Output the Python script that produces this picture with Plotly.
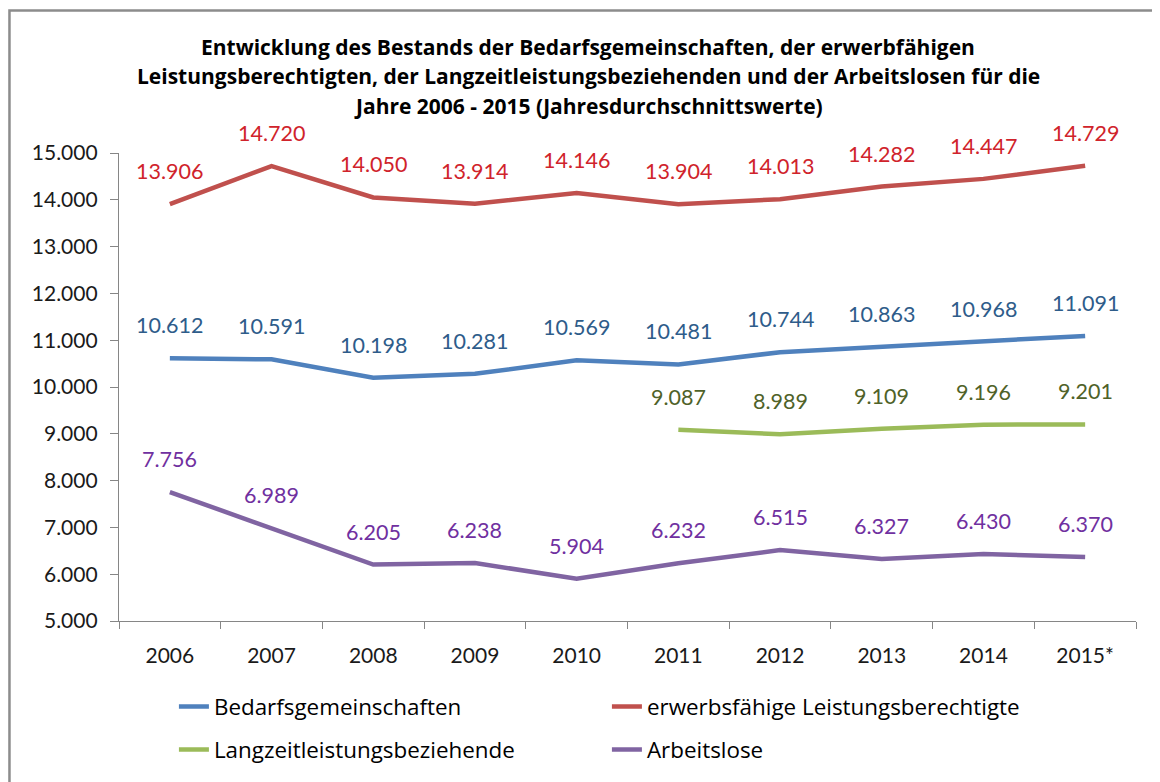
import plotly.graph_objects as go

years = ["2006", "2007", "2008", "2009", "2010", "2011", "2012", "2013", "2014", "2015*"]
bedarf = [10612, 10591, 10198, 10281, 10569, 10481, 10744, 10863, 10968, 11091]
erwerb = [13906, 14720, 14050, 13914, 14146, 13904, 14013, 14282, 14447, 14729]
langzeit = [None, None, None, None, None, 9087, 8989, 9109, 9196, 9201]
arbeitslos = [7756, 6989, 6205, 6238, 5904, 6232, 6515, 6327, 6430, 6370]
y_ticks = [5000, 6000, 7000, 8000, 9000, 10000, 11000, 12000, 13000, 14000, 15000]
y_tick_text = ["5.000", "6.000", "7.000", "8.000", "9.000", "10.000", "11.000", "12.000", "13.000", "14.000", "15.000"]

series = [
    ("Bedarfsgemeinschaften", bedarf, "#4F81BD", "#2E5C8A", "legend"),
    ("erwerbsfähige Leistungsberechtigte", erwerb, "#C0504D", "#D0232B", "legend"),
    ("Langzeitleistungsbeziehende", langzeit, "#9BBB59", "#4F6228", "legend2"),
    ("Arbeitslose", arbeitslos, "#8064A2", "#7030A0", "legend2"),
]

NUMFONT = "Lato"
TXTFONT = "Open Sans"

def fmt(v):
    return f"{v:,}".replace(",", ".")

fig = go.Figure()
annotations = []
for name, vals, lc, tc, lg in series:
    fig.add_trace(go.Scatter(
        x=years, y=vals, mode="lines", name=name,
        line=dict(color=lc, width=4.5),
        legend=lg, hoverinfo="skip",
    ))
    for i, yv in enumerate(vals):
        if yv is None:
            continue
        annotations.append(dict(
            x=i, y=yv, xref="x", yref="y", text=fmt(yv), showarrow=False,
            yshift=33, yanchor="middle", xanchor="center",
            font=dict(family=NUMFONT, size=21.5, color=tc),
        ))

title_lines = [
    "Entwicklung des Bestands der Bedarfsgemeinschaften, der erwerbfähigen",
    "Leistungsberechtigten, der Langzeitleistungsbeziehenden und der Arbeitslosen für die",
    "Jahre 2006 - 2015 (Jahresdurchschnittswerte)",
]
title_y = [1.2265, 1.1645, 1.1004]
for t, yy in zip(title_lines, title_y):
    annotations.append(dict(
        x=0.4612, y=yy, xref="paper", yref="paper", text="<b>" + t + "</b>",
        showarrow=False, xanchor="center", yanchor="middle",
        font=dict(family=TXTFONT, size=21, color="#000000"),
    ))

fig.update_layout(
    width=1160, height=782,
    margin=dict(l=111, r=32, t=145, b=169),
    paper_bgcolor="white", plot_bgcolor="white",
    annotations=annotations,
    showlegend=True,
    legend=dict(orientation="h", x=0.054, y=-0.1838, xanchor="left", yanchor="middle",
                entrywidth=388, entrywidthmode="pixels",
                font=dict(family=TXTFONT, size=22.4, color="#000000"), bgcolor="rgba(0,0,0,0)"),
    legend2=dict(orientation="h", x=0.054, y=-0.2756, xanchor="left", yanchor="middle",
                 entrywidth=388, entrywidthmode="pixels",
                 font=dict(family=TXTFONT, size=22.4, color="#000000"), bgcolor="rgba(0,0,0,0)"),
    shapes=[dict(type="rect", xref="paper", yref="paper",
                 x0=-0.1077, x1=1.2, y0=-0.6, y1=1.3045,
                 line=dict(color="#8C8C8C", width=2.5), fillcolor="rgba(0,0,0,0)", layer="below")],
)
fig.update_xaxes(
    type="category", range=[-0.5, 9.5], showline=True, linecolor="#868686", linewidth=1.3,
    ticks="outside", ticklen=7, tickcolor="#868686", tickson="boundaries",
    showgrid=False, zeroline=False, ticklabelstandoff=16,
    tickfont=dict(family=NUMFONT, size=21, color="#1a1a1a"),
)
fig.update_yaxes(
    range=[5000, 15000], tickvals=y_ticks, ticktext=y_tick_text,
    showline=True, linecolor="#868686", linewidth=1.3,
    ticks="outside", ticklen=8, tickcolor="#868686",
    showgrid=False, zeroline=False, ticklabelstandoff=8,
    tickfont=dict(family=NUMFONT, size=21, color="#1a1a1a"),
)
fig.write_html("out.html")
